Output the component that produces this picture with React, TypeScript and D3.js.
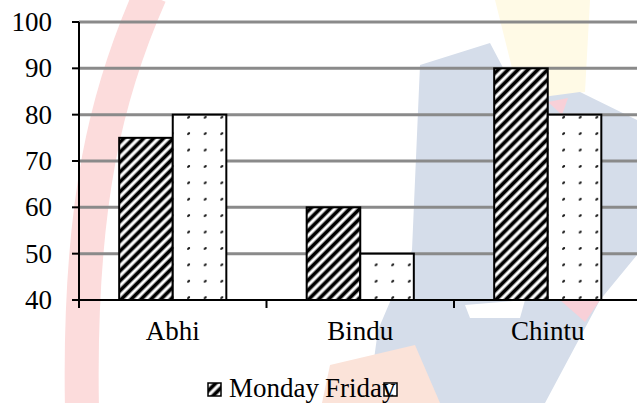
import React, { useRef, useEffect } from 'react';
import * as d3 from 'd3';

// chart data
const categories = ['Abhi', 'Bindu', 'Chintu'];
const seriesNames = ['Monday', 'Friday'];
const mondayValues = [75, 60, 90];
const fridayValues = [80, 50, 80];
const yTicks = [40, 50, 60, 70, 80, 90, 100];

const FONT = '"Liberation Serif", "Times New Roman", serif';

const App = () => {
  const svgRef = useRef<SVGSVGElement>(null);

  useEffect(() => {
    const width = 637;
    const height = 403;
    const left = 79;
    const top = 22;
    const bottom = 300;
    const bandStep = 187.5;

    const svg = d3.select(svgRef.current)
      .attr('width', width)
      .attr('height', height);

    svg.selectAll('*').remove();

    const defs = svg.append('defs');

    // wide upward diagonal hatch
    const hatch = defs.append('pattern')
      .attr('id', 'hatch')
      .attr('patternUnits', 'userSpaceOnUse')
      .attr('width', 7)
      .attr('height', 7)
      .attr('patternTransform', 'rotate(45)');
    hatch.append('rect').attr('width', 7).attr('height', 7).attr('fill', 'white');
    hatch.append('line')
      .attr('x1', 3.5).attr('y1', 0).attr('x2', 3.5).attr('y2', 7)
      .attr('stroke', 'black').attr('stroke-width', 3.8);

    // sparse dots
    const dots = defs.append('pattern')
      .attr('id', 'dots')
      .attr('patternUnits', 'userSpaceOnUse')
      .attr('x', 8.5)
      .attr('y', 1)
      .attr('width', 16.6)
      .attr('height', 16.4);
    dots.append('rect').attr('width', 16.6).attr('height', 16.4).attr('fill', 'white');
    dots.append('ellipse')
      .attr('cx', 1.5).attr('cy', 1.5).attr('rx', 1.7).attr('ry', 1.1)
      .attr('transform', 'rotate(-45 1.5 1.5)')
      .attr('fill', '#111');

    const fills = ['url(#hatch)', 'url(#dots)'];

    // faint background watermark
    const bg = svg.append('g');
    bg.append('rect').attr('width', width).attr('height', height).attr('fill', 'white');
    bg.append('path')
      .attr('d', 'M495,0 L590,0 L585,92 L520,100 Z')
      .attr('fill', '#fffae6');
    bg.append('path')
      .attr('d', 'M420,65 L490,43 L520,100 L580,92 L637,120 L637,255 L600,300 L545,403 L368,403 L378,330 L412,250 Z')
      .attr('fill', '#d5ddea');
    bg.append('path')
      .attr('d', 'M465,305 L525,300 L520,318 L470,318 Z')
      .attr('fill', 'white');
    bg.append('path')
      .attr('d', 'M330,365 L415,345 L440,403 L322,403 Z')
      .attr('fill', '#fbe3d9');
    bg.append('path')
      .attr('d', 'M548,102 L568,98 L562,115 Z')
      .attr('fill', '#f8d0d8');
    bg.append('path')
      .attr('d', 'M560,300 L600,300 L585,322 Z')
      .attr('fill', '#f8d0d8');
    bg.append('path')
      .attr('d', 'M150,-5 C108,90 78,200 82,410')
      .attr('fill', 'none')
      .attr('stroke', '#fcdcdc')
      .attr('stroke-width', 34);

    // scales
    const y = d3.scaleLinear()
      .domain([40, 100])
      .range([bottom, top]);

    const x0 = d3.scaleBand<string>()
      .domain(categories)
      .range([left, left + bandStep * categories.length]);

    const x1 = d3.scaleBand<string>()
      .domain(seriesNames)
      .range([0, x0.bandwidth()])
      .paddingInner(0)
      .paddingOuter(0.75);

    // gridlines
    svg.append('g')
      .selectAll('line')
      .data(yTicks.filter(t => t !== 40))
      .enter()
      .append('line')
      .attr('x1', left)
      .attr('x2', width)
      .attr('y1', d => y(d))
      .attr('y2', d => y(d))
      .attr('stroke', '#8a8a8a')
      .attr('stroke-width', 3);

    // bars
    const rows = categories.map((c, i) => ({ cat: c, values: [mondayValues[i], fridayValues[i]] }));
    svg.append('g')
      .selectAll('g')
      .data(rows)
      .enter()
      .append('g')
      .attr('transform', d => `translate(${x0(d.cat)},0)`)
      .selectAll('rect')
      .data(d => d.values.map((v, j) => ({ key: seriesNames[j], value: v, j })))
      .enter()
      .append('rect')
      .attr('x', d => x1(d.key) as number)
      .attr('y', d => y(d.value))
      .attr('width', x1.bandwidth())
      .attr('height', d => bottom - y(d.value))
      .attr('fill', d => fills[d.j])
      .attr('stroke', 'black')
      .attr('stroke-width', 2);

    // y axis
    const yAxis = svg.append('g');
    yAxis.append('line')
      .attr('x1', left).attr('x2', left)
      .attr('y1', top).attr('y2', bottom + 8)
      .attr('stroke', 'black').attr('stroke-width', 2);
    yAxis.selectAll('line.tick')
      .data(yTicks)
      .enter()
      .append('line')
      .attr('class', 'tick')
      .attr('x1', left - 7).attr('x2', left)
      .attr('y1', d => y(d)).attr('y2', d => y(d))
      .attr('stroke', 'black').attr('stroke-width', 2);
    yAxis.selectAll('text')
      .data(yTicks)
      .enter()
      .append('text')
      .attr('x', 52)
      .attr('y', d => y(d) + 9)
      .attr('text-anchor', 'end')
      .attr('font-family', FONT)
      .attr('font-size', 27)
      .attr('fill', 'black')
      .text(d => d);

    // x axis
    const xAxis = svg.append('g');
    xAxis.append('line')
      .attr('x1', left).attr('x2', width)
      .attr('y1', bottom).attr('y2', bottom)
      .attr('stroke', 'black').attr('stroke-width', 2);
    xAxis.selectAll('line.tick')
      .data(categories.slice(1))
      .enter()
      .append('line')
      .attr('class', 'tick')
      .attr('x1', d => x0(d) as number).attr('x2', d => x0(d) as number)
      .attr('y1', bottom).attr('y2', bottom + 8)
      .attr('stroke', 'black').attr('stroke-width', 2);
    xAxis.selectAll('text')
      .data(categories)
      .enter()
      .append('text')
      .attr('x', d => (x0(d) as number) + x0.bandwidth() / 2)
      .attr('y', 340)
      .attr('text-anchor', 'middle')
      .attr('font-family', FONT)
      .attr('font-size', 27)
      .attr('fill', 'black')
      .text(d => d);

    // legend (overlapping, as in the original): icons first, text on top
    const legendItems = [
      { name: seriesNames[0], fill: fills[0], iconX: 208, textX: 229 },
      { name: seriesNames[1], fill: fills[1], iconX: 384, textX: 325 },
    ];
    const legend = svg.append('g');
    legend.selectAll('rect')
      .data(legendItems)
      .enter()
      .append('rect')
      .attr('x', d => d.iconX)
      .attr('y', 383)
      .attr('width', 13)
      .attr('height', 13)
      .attr('fill', d => d.fill)
      .attr('stroke', 'black')
      .attr('stroke-width', 1.5);
    legend.selectAll('text')
      .data(legendItems)
      .enter()
      .append('text')
      .attr('x', d => d.textX)
      .attr('y', 397)
      .attr('font-family', FONT)
      .attr('font-size', 27)
      .attr('fill', 'black')
      .text(d => d.name);
  }, []);

  return (
    <svg
      ref={svgRef}
      style={{ position: 'absolute', left: 0, top: 0, display: 'block' }}
    />
  );
};

export default App;
